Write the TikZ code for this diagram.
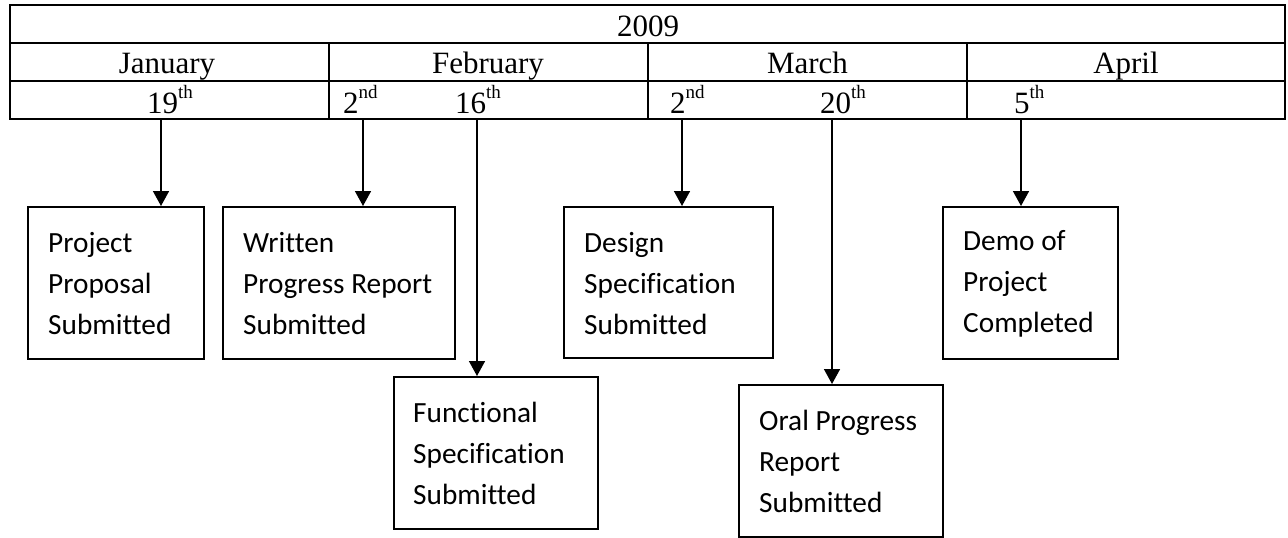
\documentclass[tikz,border=0pt]{standalone}
\usepackage{fontspec}
\setmainfont{Liberation Serif}
\newfontfamily\boxfont[Ligatures=NoCommon]{Carlito}
\usetikzlibrary{arrows.meta}
\newcommand\supr[1]{\raisebox{15pt}{\fontsize{19}{19}\selectfont #1}}
\tikzset{
  tline/.style={line width=2.6pt},
  tcell/.style={inner sep=0pt, font=\fontsize{31}{36}\selectfont},
  evbox/.style={draw, line width=1.6pt, inner sep=0pt, anchor=north west},
  evtext/.style={inner sep=0pt, anchor=west, align=left, font=\boxfont\fontsize{29.3}{41}\selectfont},
  evarrow/.style={line width=1.6pt, -{Triangle[width=16pt,length=15pt]}}
}
\begin{document}
\begin{tikzpicture}[x=1pt,y=-1pt]
\useasboundingbox (0,0) rectangle (1288,538);
% table
\draw[tline] (10,5) rectangle (1285,119);
\draw[tline] (10,43) -- (1285,43);
\draw[tline] (10,81) -- (1285,81);
\draw[tline] (329,43) -- (329,119);
\draw[tline] (648,43) -- (648,119);
\draw[tline] (967,43) -- (967,119);
\node[tcell, anchor=base] (year) at (648,36) {2009};
\node[tcell, anchor=base] (jan) at (167,73) {January};
\node[tcell, anchor=base] (feb) at (488,73) {February};
\node[tcell, anchor=base] (mar) at (807.5,73) {March};
\node[tcell, anchor=base] (apr) at (1126,73) {April};
\node[tcell, anchor=base west] (d1) at (147,113) {19\supr{th}};
\node[tcell, anchor=base west] (d2) at (343,113) {2\supr{nd}};
\node[tcell, anchor=base west] (d3) at (455,113) {16\supr{th}};
\node[tcell, anchor=base west] (d4) at (670,113) {2\supr{nd}};
\node[tcell, anchor=base west] (d5) at (820,113) {20\supr{th}};
\node[tcell, anchor=base west] (d6) at (1014,113) {5\supr{th}};
\coordinate (s1) at (161,120);
\coordinate (s2) at (363,120);
\coordinate (s3) at (477,120);
\coordinate (s4) at (682,120);
\coordinate (s5) at (832,120);
\coordinate (s6) at (1021,120);
% boxes
\node[evbox, minimum width=176pt, minimum height=152pt] (b1) at (27,206) {};
\node[evbox, minimum width=232pt, minimum height=152pt] (b2) at (222,206) {};
\node[evbox, minimum width=204pt, minimum height=152pt] (b3) at (393,376) {};
\node[evbox, minimum width=209pt, minimum height=151pt] (b4) at (563,206) {};
\node[evbox, minimum width=204pt, minimum height=152pt] (b5) at (738,384) {};
\node[evbox, minimum width=175pt, minimum height=152pt] (b6) at (942,206) {};
\node[evtext] (t1) at ([xshift=21pt,yshift=-1pt]b1.west) {Project\\Proposal\\Submitted};
\node[evtext] (t2) at ([xshift=21pt,yshift=-1pt]b2.west) {Written\\Progress Report\\Submitted};
\node[evtext] (t3) at ([xshift=20pt,yshift=-1pt]b3.west) {Functional\\Specification\\Submitted};
\node[evtext] (t4) at ([xshift=21pt,yshift=-1pt]b4.west) {Design\\Specification\\Submitted};
\node[evtext] (t5) at ([xshift=21pt,yshift=-1pt]b5.west) {Oral Progress\\Report\\Submitted};
\node[evtext] (t6) at ([xshift=21pt,yshift=-1pt]b6.west) {Demo of\\Project\\Completed};
% arrows
\draw[evarrow] (s1) -- (s1 |- b1.north);
\draw[evarrow] (s2) -- (s2 |- b2.north);
\draw[evarrow] (s3) -- (s3 |- b3.north);
\draw[evarrow] (s4) -- (s4 |- b4.north);
\draw[evarrow] (s5) -- (s5 |- b5.north);
\draw[evarrow] (s6) -- (s6 |- b6.north);
\end{tikzpicture}
\end{document}
